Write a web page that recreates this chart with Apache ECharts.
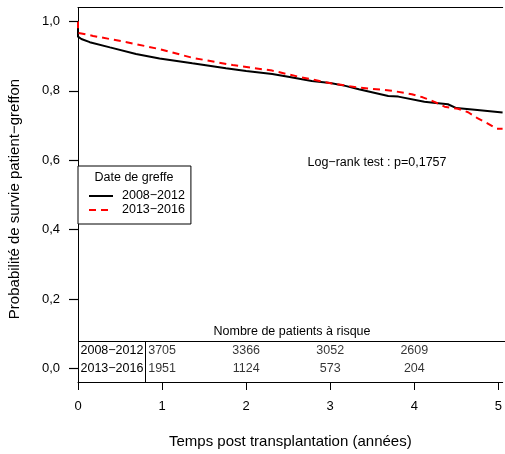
<!DOCTYPE html>
<html>
<head>
<meta charset="utf-8">
<script src="https://cdn.jsdelivr.net/npm/echarts@6/dist/echarts.min.js"></script>
<style>html,body{margin:0;padding:0;background:#fff}#c{width:505px;height:454px}</style>
</head>
<body>
<div id="c"></div>
<script>
// ---- Data ----
const groups = ['2008\u22122012', '2013\u22122016'];
const timeTicks = [0, 1, 2, 3, 4, 5];
const survTicks = [0, 0.2, 0.4, 0.6, 0.8, 1.0];

const blackT = [0, 0, 0.04, 0.14, 0.38, 0.69, 0.97, 1.36, 1.76, 2.0, 2.31, 2.5, 2.78, 3.0, 3.18, 3.34, 3.69, 3.81, 4.12, 4.2, 4.4, 4.5, 4.72, 5.05];
const blackS = [1.0, 0.956, 0.949, 0.940, 0.925, 0.906, 0.893, 0.879, 0.865, 0.857, 0.848, 0.840, 0.828, 0.822, 0.814, 0.804, 0.785, 0.783, 0.768, 0.766, 0.761, 0.750, 0.745, 0.737];

const redT = [0, 0, 0.18, 0.58, 0.97, 1.36, 1.84, 2.31, 2.63, 3.02, 3.34, 3.73, 3.97, 4.10, 4.24, 4.36, 4.52, 4.64, 4.75, 4.87, 4.98, 5.05];
const redS = [1.0, 0.967, 0.958, 0.940, 0.920, 0.895, 0.874, 0.858, 0.840, 0.821, 0.809, 0.800, 0.790, 0.781, 0.768, 0.754, 0.748, 0.738, 0.721, 0.706, 0.690, 0.690];

const riskTimes = [1, 2, 3, 4];
const risk1 = [3705, 3366, 3052, 2609];
const risk2 = [1951, 1124, 573, 204];
const riskRowY = [0.05, 0.0];

const pText = 'Log\u2212rank test : p=0,1757';
// --------------------------------------

const FONT = '"Liberation Sans", Arial, Helvetica, sans-serif';
const toPairs = (t, s) => t.map((v, i) => [v, s[i]]);
const riskData = [];
riskTimes.forEach((t, i) => {
  riskData.push([t, riskRowY[0], risk1[i]]);
  riskData.push([t, riskRowY[1], risk2[i]]);
});

const chart = echarts.init(document.getElementById('c'), null, {renderer: 'canvas'});
const graphics = [
  {type: 'text', x: 15, y: 199, rotation: Math.PI / 2,
    style: {text: 'Probabilit\u00e9 de survie patient\u2212greffon', font: '15px ' + FONT,
    fill: '#000', align: 'center', verticalAlign: 'middle'}},
  {type: 'text', x: 377, y: 163, style: {text: pText, font: '12.5px ' + FONT, fill: '#000',
    align: 'center', verticalAlign: 'middle'}},
  {type: 'text', x: 134, y: 177.5, z: 100, style: {text: 'Date de greffe', font: '12.5px ' + FONT, fill: '#000',
    align: 'center', verticalAlign: 'middle'}},
  {type: 'text', x: 292, y: 331.5, style: {text: 'Nombre de patients \u00e0 risque', font: '12.5px ' + FONT, fill: '#000',
    align: 'center', verticalAlign: 'middle'}},
  {type: 'line', shape: {x1: 78, y1: 341.5, x2: 505, y2: 341.5}, style: {stroke: '#000', lineWidth: 1}},
  {type: 'line', shape: {x1: 145.5, y1: 341.5, x2: 145.5, y2: 382.5}, style: {stroke: '#000', lineWidth: 1}},
  {type: 'text', x: 80.5, y: 351, style: {text: groups[0], font: '12.5px ' + FONT, fill: '#000',
    align: 'left', verticalAlign: 'middle'}},
  {type: 'text', x: 80.5, y: 368.5, style: {text: groups[1], font: '12.5px ' + FONT, fill: '#000',
    align: 'left', verticalAlign: 'middle'}}
];
const option = {
  animation: false,
  backgroundColor: '#fff',
  textStyle: {fontFamily: FONT, color: '#000'},
  grid: [
    {left: 78, top: 7.5, right: 0, bottom: 71.5},
    {left: 78, top: 21.39, right: 0, bottom: 85.39}
  ],
  xAxis: [{
    type: 'value', gridIndex: 0, min: 0, max: 5.051, position: 'bottom',
    axisLine: {show: true, onZero: false, lineStyle: {color: '#000', width: 1}},
    axisTick: {show: true, customValues: timeTicks, length: 8, lineStyle: {color: '#000'}},
    axisLabel: {show: true, customValues: timeTicks, margin: 18, fontSize: 13, color: '#000', fontFamily: FONT,
      formatter: v => String(v)},
    splitLine: {show: false},
    name: 'Temps post transplantation (ann\u00e9es)', nameLocation: 'middle', nameGap: 52,
    nameTextStyle: {fontSize: 15, color: '#000', fontFamily: FONT}
  }, {
    type: 'value', gridIndex: 0, min: 0, max: 5.051, position: 'top',
    axisLine: {show: true, onZero: false, lineStyle: {color: '#000', width: 1}},
    axisTick: {show: false}, axisLabel: {show: false}, splitLine: {show: false}
  }, {
    type: 'value', gridIndex: 1, min: 0, max: 5.051, show: false
  }],
  yAxis: [{
    type: 'value', gridIndex: 0, min: -0.04, max: 1.04,
    axisLine: {show: true, onZero: false, lineStyle: {color: '#000', width: 1}},
    axisTick: {show: false}, axisLabel: {show: false}, splitLine: {show: false}
  }, {
    type: 'value', gridIndex: 1, min: 0, max: 1, interval: 0.2, position: 'left',
    axisLine: {show: false, onZero: false},
    axisTick: {show: true, length: 9, lineStyle: {color: '#000', width: 1}},
    axisLabel: {show: true, margin: 18, fontSize: 13, color: '#000', fontFamily: FONT,
      formatter: v => v.toFixed(1).replace('.', ',')},
    splitLine: {show: false}
  }],
  legend: {
    data: groups,
    orient: 'vertical', left: 78, top: 166,
    padding: [23, 6, 7, 10],
    itemGap: 0, itemWidth: 24, itemHeight: 14,
    borderColor: '#000', borderWidth: 1, borderRadius: 0,
    backgroundColor: '#fff',
    selectedMode: false,
    itemStyle: {opacity: 0, borderWidth: 0},
    textStyle: {fontSize: 12.5, color: '#000', fontFamily: FONT, lineHeight: 14, padding: [0, 0, 0, 4]}
  },
  series: [{
    name: groups[0], type: 'line', xAxisIndex: 0, yAxisIndex: 0, data: toPairs(blackT, blackS),
    symbol: 'none', showSymbol: false, silent: true,
    lineStyle: {color: '#000', width: 2}, itemStyle: {color: '#000'}, z: 3
  }, {
    name: groups[1], type: 'line', xAxisIndex: 0, yAxisIndex: 0, data: toPairs(redT, redS),
    symbol: 'none', showSymbol: false, silent: true,
    lineStyle: {color: '#ff0000', width: 2, type: [7, 5]}, itemStyle: {color: '#ff0000'}, z: 4
  }, {
    name: 'risk', type: 'scatter', xAxisIndex: 0, yAxisIndex: 0, data: riskData, symbolSize: 0, silent: true,
    label: {show: true, position: 'inside', formatter: p => String(p.data[2]),
      fontSize: 12.5, color: '#000', fontFamily: FONT}, z: 5
  }],
  graphic: graphics
};
chart.setOption(option);

// y-axis tick marks placed through the axis scale
const tickMarks = survTicks.map(v => {
  const p = chart.convertToPixel({xAxisIndex: 0, yAxisIndex: 0}, [0, v]);
  const y = Math.round(p[1]) + 0.5;
  return {type: 'line', z: 50, shape: {x1: p[0] - 9, y1: y, x2: p[0], y2: y},
    style: {stroke: '#000', lineWidth: 1.2}};
});
chart.setOption({graphic: graphics.concat(tickMarks)});
</script>
</body>
</html>
